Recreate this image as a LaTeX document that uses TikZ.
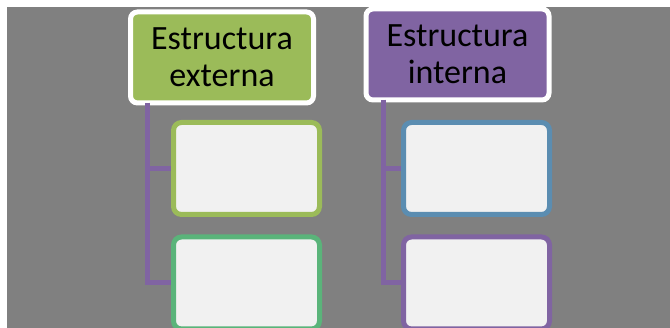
\documentclass[tikz,border=0pt]{standalone}
\usepackage{fontspec}
\setmainfont{Carlito}
\definecolor{bggray}{HTML}{808080}
\definecolor{hgreen}{HTML}{9BBB59}
\definecolor{hpurple}{HTML}{8064A2}
\definecolor{cgreen}{HTML}{5AB47A}
\definecolor{cblue}{HTML}{5B8DB1}
\definecolor{cfill}{HTML}{F1F1F1}
\tikzset{
  header/.style={draw=white, line width=5pt, rounded corners=7pt, minimum width=183pt, minimum height=91pt, inner sep=0pt, align=center, font=\fontsize{34}{37}\selectfont, text=black},
  child/.style={line width=5pt, fill=cfill, rounded corners=8pt, minimum width=146pt, minimum height=92pt, inner sep=0pt},
  conn/.style={draw=hpurple, line width=5pt, line join=miter},
}
\begin{document}
\begin{tikzpicture}[x=1pt,y=-1pt]
\useasboundingbox (0,0) rectangle (670,328);
\fill[white] (0,0) rectangle (670,328);
\fill[bggray] (7,7) rectangle (670,328);
% children
\node[child, draw=hgreen] (l1) at (246.5,168.5) {};
\node[child, draw=cgreen] (l2) at (246.5,283) {};
\node[child, draw=cblue] (r1) at (476.5,168.5) {};
\node[child, draw=hpurple] (r2) at (476.5,283) {};
% headers
\node[header, fill=hgreen] (hl) at (222,57.5) {Estructura\\externa};
\node[header, fill=hpurple] (hr) at (457.5,54.5) {Estructura\\interna};
% connectors
\coordinate (tl) at ([xshift=19pt,yshift=2.5pt]hl.south west);
\coordinate (tr) at ([xshift=20pt,yshift=2.5pt]hr.south west);
\draw[conn] (tl) |- (l1.west);
\draw[conn] (tl) |- (l2.west);
\draw[conn] (tr) |- (r1.west);
\draw[conn] (tr) |- (r2.west);
\end{tikzpicture}
\end{document}
